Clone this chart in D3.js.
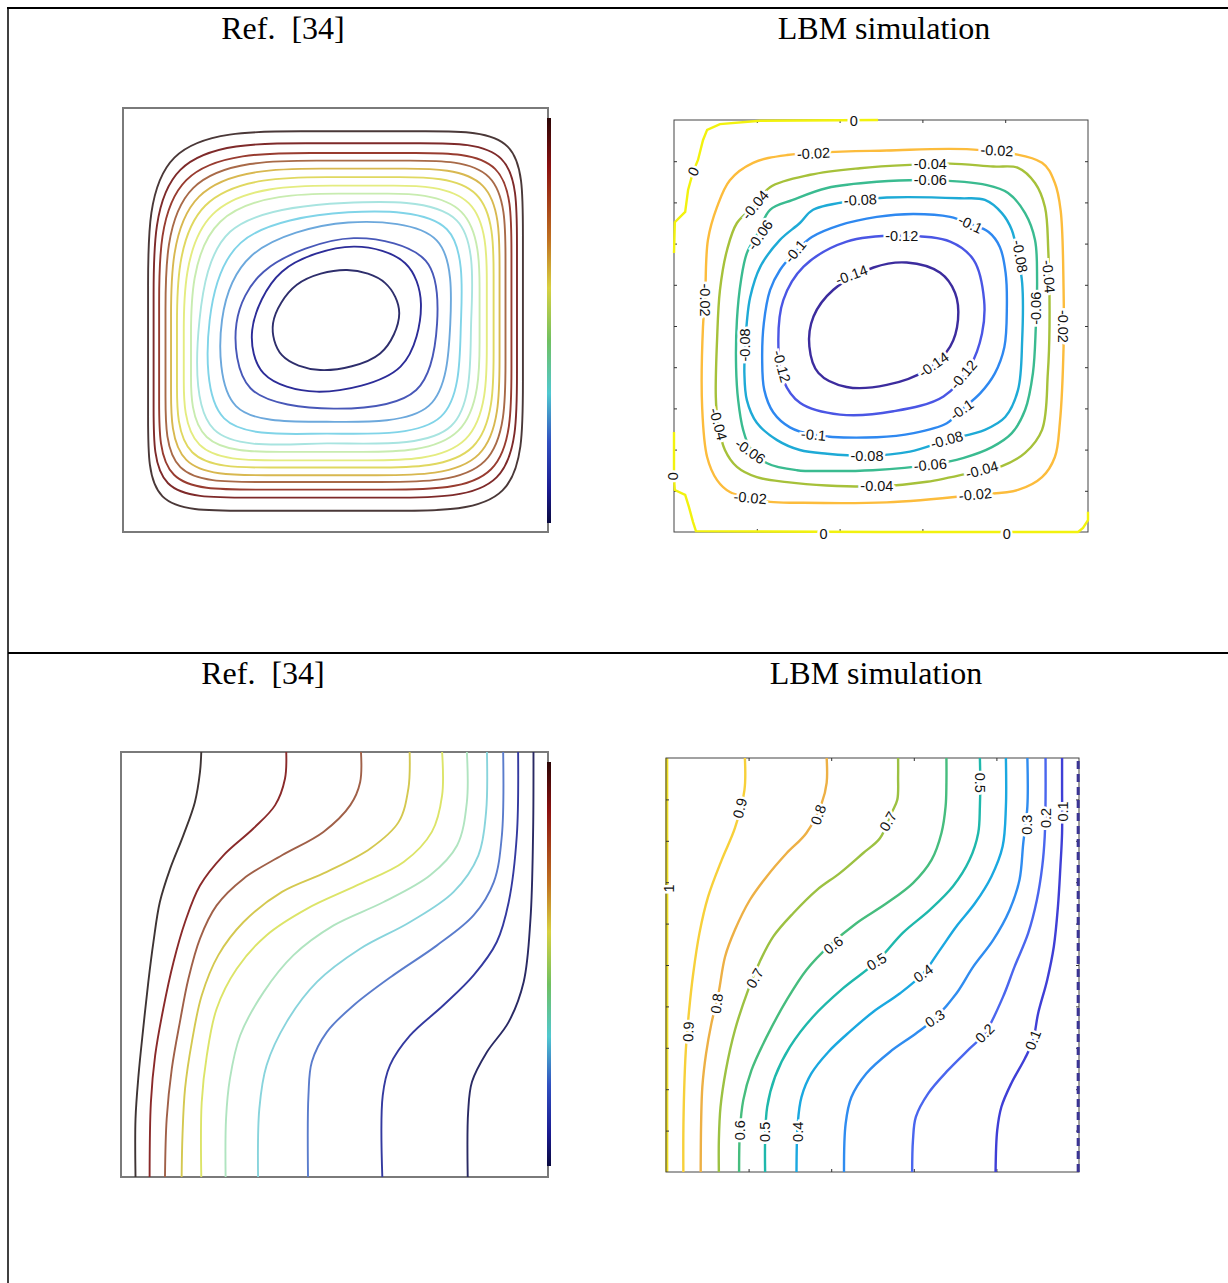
<!DOCTYPE html>
<html>
<head>
<meta charset="utf-8">
<script src="https://cdn.jsdelivr.net/npm/d3@7"></script>
<style>
  body { margin: 0; background: #fff; }
  .title { font-family: "Liberation Serif", "Times New Roman", serif; font-size: 32px; fill: #000; white-space: pre; }
  .clab { font-family: "Liberation Sans", Arial, sans-serif; font-size: 14.5px; fill: #111; }
</style>
</head>
<body>
<svg id="fig" width="1228" height="1283"></svg>
<script>
// ---------------- data (cavity coordinates, 0..1, y up) ----------------
const titleRef = "Ref.  [34]";
const titleLbm = "LBM simulation";

// Ref. [34] stream-function loops.
// outer eight: spline control polygons (corner, side, side, corner ...), outer -> inner
const refPsiOuter = [
  [[0.059,0.945],[0.431,0.945],[0.725,0.945],[0.941,0.945],[0.941,0.729],[0.941,0.338],[0.941,0.050],[0.653,0.050],[0.263,0.050],[0.059,0.050],[0.059,0.254],[0.059,0.573]],
  [[0.072,0.917],[0.450,0.917],[0.705,0.917],[0.927,0.917],[0.927,0.695],[0.927,0.369],[0.927,0.081],[0.639,0.081],[0.276,0.081],[0.072,0.081],[0.072,0.285],[0.072,0.539]],
  [[0.085,0.894],[0.469,0.894],[0.686,0.894],[0.914,0.894],[0.914,0.666],[0.914,0.388],[0.914,0.100],[0.626,0.100],[0.295,0.100],[0.085,0.100],[0.085,0.310],[0.085,0.510]],
  [[0.100,0.876],[0.490,0.876],[0.666,0.876],[0.900,0.876],[0.900,0.642],[0.900,0.412],[0.900,0.118],[0.606,0.118],[0.310,0.118],[0.100,0.118],[0.100,0.328],[0.100,0.486]],
  [[0.113,0.857],[0.509,0.857],[0.646,0.857],[0.886,0.857],[0.886,0.617],[0.886,0.428],[0.886,0.134],[0.592,0.134],[0.329,0.134],[0.113,0.134],[0.113,0.350],[0.113,0.461]],
  [[0.127,0.837],[0.529,0.837],[0.626,0.837],[0.872,0.837],[0.872,0.591],[0.872,0.446],[0.872,0.152],[0.578,0.152],[0.343,0.152],[0.127,0.152],[0.127,0.368],[0.127,0.435]],
  [[0.143,0.817],[0.551,0.817],[0.604,0.817],[0.856,0.817],[0.856,0.565],[0.856,0.469],[0.856,0.169],[0.556,0.169],[0.365,0.169],[0.143,0.169],[0.143,0.391],[0.143,0.409]],
  [[0.160,0.798],[0.574,0.798],[0.581,0.798],[0.839,0.798],[0.839,0.540],[0.839,0.489],[0.839,0.189],[0.539,0.189],[0.382,0.189],[0.160,0.189],[0.160,0.400],[0.160,0.400]]
];
// inner six: points on the loop (top, NE, right, SE, bottom, SW, left, NW)
const refPsiInner = [
  [[0.520,0.776],[0.785,0.735],[0.819,0.490],[0.772,0.250],[0.480,0.209],[0.214,0.242],[0.180,0.500],[0.252,0.708]],
  [[0.530,0.754],[0.762,0.714],[0.795,0.490],[0.748,0.272],[0.480,0.232],[0.238,0.268],[0.204,0.500],[0.277,0.682]],
  [[0.530,0.730],[0.738,0.688],[0.770,0.490],[0.720,0.298],[0.480,0.260],[0.266,0.297],[0.233,0.500],[0.303,0.652]],
  [[0.543,0.693],[0.712,0.640],[0.739,0.492],[0.690,0.335],[0.496,0.291],[0.300,0.339],[0.267,0.492],[0.331,0.614]],
  [[0.543,0.673],[0.664,0.634],[0.701,0.539],[0.653,0.390],[0.456,0.331],[0.331,0.374],[0.304,0.476],[0.374,0.614]],
  [[0.527,0.618],[0.617,0.587],[0.650,0.516],[0.605,0.421],[0.464,0.382],[0.374,0.417],[0.353,0.492],[0.409,0.583]]
];

// Ref. [34] isotherms, hot wall side -> cold wall side (top to bottom points)
const refTempCurves = [
  [[0.188,1.0],[0.185,0.953],[0.173,0.882],[0.146,0.804],[0.115,0.725],[0.091,0.647],[0.076,0.553],[0.064,0.459],[0.052,0.349],[0.041,0.239],[0.034,0.137],[0.034,0.0]],
  [[0.387,1.0],[0.384,0.937],[0.361,0.875],[0.310,0.820],[0.240,0.757],[0.185,0.686],[0.150,0.600],[0.123,0.506],[0.099,0.396],[0.080,0.286],[0.070,0.176],[0.067,0.0]],
  [[0.562,1.0],[0.560,0.929],[0.537,0.875],[0.474,0.812],[0.377,0.757],[0.287,0.702],[0.224,0.639],[0.185,0.561],[0.158,0.467],[0.138,0.365],[0.119,0.255],[0.107,0.137],[0.103,0.0]],
  [[0.676,1.0],[0.673,0.914],[0.650,0.835],[0.584,0.773],[0.482,0.718],[0.377,0.671],[0.287,0.600],[0.228,0.522],[0.189,0.427],[0.166,0.318],[0.150,0.208],[0.144,0.098],[0.142,0.0]],
  [[0.752,1.0],[0.752,0.898],[0.728,0.812],[0.662,0.741],[0.552,0.686],[0.435,0.631],[0.341,0.569],[0.271,0.490],[0.224,0.396],[0.201,0.286],[0.189,0.176],[0.188,0.0]],
  [[0.810,1.0],[0.810,0.882],[0.787,0.780],[0.724,0.710],[0.615,0.647],[0.498,0.592],[0.404,0.522],[0.334,0.435],[0.279,0.333],[0.255,0.231],[0.246,0.137],[0.245,0.0]],
  [[0.857,1.0],[0.855,0.859],[0.837,0.757],[0.779,0.671],[0.677,0.600],[0.560,0.537],[0.459,0.459],[0.388,0.365],[0.341,0.263],[0.324,0.161],[0.321,0.0]],
  [[0.895,1.0],[0.892,0.804],[0.873,0.694],[0.826,0.616],[0.740,0.545],[0.638,0.475],[0.545,0.404],[0.482,0.341],[0.447,0.271],[0.439,0.192],[0.438,0.0]],
  [[0.930,1.0],[0.927,0.804],[0.908,0.647],[0.880,0.553],[0.826,0.475],[0.755,0.404],[0.677,0.333],[0.630,0.263],[0.613,0.192],[0.612,0.0]],
  [[0.966,1.0],[0.965,0.804],[0.959,0.608],[0.943,0.459],[0.908,0.365],[0.857,0.294],[0.822,0.224],[0.813,0.153],[0.812,0.0]]
];

// LBM stream function
const lbmPsiLevels = [-0.02, -0.04, -0.06, -0.08, -0.1, -0.12, -0.14];
const lbmPsiLoops = [
  [[0.273,0.915],[0.514,0.926],[0.740,0.927],[0.889,0.896],[0.920,0.847],[0.934,0.780],[0.941,0.590],[0.941,0.450],[0.932,0.265],[0.920,0.182],[0.889,0.133],[0.831,0.102],[0.728,0.090],[0.514,0.072],[0.300,0.071],[0.232,0.073],[0.184,0.083],[0.135,0.097],[0.104,0.126],[0.080,0.182],[0.068,0.303],[0.070,0.498],[0.075,0.563],[0.082,0.709],[0.104,0.789],[0.135,0.854],[0.191,0.896]],
  [[0.329,0.867],[0.449,0.883],[0.570,0.891],[0.667,0.894],[0.771,0.887],[0.831,0.884],[0.872,0.847],[0.896,0.789],[0.904,0.684],[0.907,0.499],[0.903,0.386],[0.889,0.248],[0.848,0.192],[0.792,0.160],[0.744,0.150],[0.611,0.122],[0.490,0.111],[0.369,0.113],[0.273,0.121],[0.200,0.133],[0.152,0.158],[0.123,0.199],[0.106,0.267],[0.101,0.328],[0.104,0.466],[0.111,0.587],[0.128,0.684],[0.152,0.750],[0.196,0.794],[0.232,0.837]],
  [[0.287,0.806],[0.370,0.835],[0.490,0.850],[0.619,0.854],[0.756,0.842],[0.807,0.823],[0.848,0.774],[0.872,0.709],[0.877,0.612],[0.874,0.499],[0.867,0.386],[0.848,0.296],[0.816,0.240],[0.768,0.206],[0.700,0.180],[0.619,0.163],[0.480,0.150],[0.370,0.148],[0.297,0.150],[0.225,0.167],[0.184,0.204],[0.167,0.248],[0.155,0.320],[0.150,0.400],[0.152,0.515],[0.162,0.612],[0.176,0.677],[0.203,0.726],[0.232,0.782]],
  [[0.336,0.782],[0.449,0.806],[0.514,0.812],[0.691,0.810],[0.751,0.806],[0.792,0.774],[0.816,0.733],[0.831,0.667],[0.841,0.604],[0.841,0.466],[0.831,0.345],[0.800,0.279],[0.751,0.248],[0.659,0.223],[0.570,0.195],[0.466,0.185],[0.370,0.190],[0.304,0.199],[0.249,0.223],[0.200,0.265],[0.176,0.320],[0.170,0.386],[0.172,0.449],[0.176,0.510],[0.184,0.570],[0.208,0.643],[0.256,0.709],[0.304,0.750]],
  [[0.333,0.716],[0.401,0.745],[0.490,0.765],[0.578,0.772],[0.667,0.765],[0.715,0.748],[0.760,0.728],[0.787,0.692],[0.801,0.629],[0.804,0.546],[0.798,0.449],[0.775,0.385],[0.740,0.337],[0.695,0.297],[0.659,0.264],[0.579,0.240],[0.490,0.230],[0.337,0.236],[0.280,0.254],[0.240,0.290],[0.218,0.345],[0.213,0.420],[0.217,0.507],[0.232,0.587],[0.256,0.636],[0.293,0.680]],
  [[0.417,0.705],[0.550,0.719],[0.667,0.705],[0.724,0.660],[0.749,0.563],[0.744,0.482],[0.715,0.402],[0.651,0.329],[0.530,0.293],[0.401,0.285],[0.305,0.313],[0.264,0.369],[0.252,0.466],[0.264,0.563],[0.313,0.644]],
  [[0.482,0.642],[0.562,0.654],[0.643,0.629],[0.679,0.580],[0.686,0.515],[0.667,0.450],[0.611,0.394],[0.514,0.357],[0.417,0.352],[0.349,0.386],[0.327,0.450],[0.337,0.523],[0.385,0.588]]
];
// the psi = 0 contour hugs the walls
const lbmPsiZero = [
  [[0.493,1.0],[0.208,0.998],[0.111,0.990],[0.080,0.976],[0.070,0.951],[0.058,0.903],[0.046,0.874],[0.034,0.830],[0.027,0.777],[0.002,0.752],[0.0,0.677]],
  [[0.0,0.243],[0.0,0.131],[0.002,0.102],[0.027,0.090],[0.036,0.061],[0.046,0.024],[0.053,0.002],[0.500,0.0],[0.976,0.0],[0.988,0.010],[1.0,0.029],[1.0,0.049]]
];
// [text, x, y, angle]
const lbmPsiLabels = [
  ["0",0.434,0.998,0],["0",0.047,0.875,-65],["-0.02",0.337,0.919,-3],["-0.02",0.780,0.926,3],
  ["-0.04",0.619,0.893,0],["-0.06",0.619,0.854,0],["-0.04",0.196,0.794,-50],["-0.06",0.208,0.721,-55],
  ["-0.08",0.450,0.806,-3],["-0.1",0.716,0.747,25],["-0.12",0.550,0.719,0],["-0.1",0.293,0.681,-50],
  ["-0.08",0.836,0.669,80],["-0.14",0.429,0.624,-20],["-0.04",0.905,0.620,85],["-0.02",0.075,0.563,90],
  ["-0.06",0.873,0.543,-90],["-0.02",0.941,0.499,90],["-0.08",0.172,0.454,-90],["-0.12",0.260,0.402,75],
  ["-0.14",0.627,0.406,-35],["-0.12",0.699,0.382,-50],["-0.1",0.695,0.297,-35],["-0.04",0.107,0.262,75],
  ["-0.06",0.184,0.196,35],["-0.1",0.337,0.236,5],["-0.08",0.659,0.224,-15],["-0.08",0.466,0.185,0],
  ["-0.06",0.619,0.163,-5],["-0.04",0.744,0.151,-15],["-0.04",0.490,0.111,0],["-0.02",0.184,0.083,5],
  ["-0.02",0.728,0.091,-5],["0",-0.002,0.135,90],["0",0.361,-0.004,0],["0",0.804,-0.004,0]
];

// LBM temperature
const lbmTempLevels = [0.9, 0.8, 0.7, 0.6, 0.5, 0.4, 0.3, 0.2, 0.1];
const lbmTempCurves = [
  [[0.191,1.0],[0.190,0.923],[0.167,0.831],[0.135,0.754],[0.102,0.665],[0.081,0.577],[0.066,0.480],[0.056,0.391],[0.048,0.294],[0.044,0.198],[0.042,0.093],[0.042,0.0]],
  [[0.389,1.0],[0.389,0.940],[0.377,0.891],[0.340,0.819],[0.292,0.770],[0.244,0.714],[0.203,0.657],[0.167,0.585],[0.143,0.520],[0.127,0.431],[0.110,0.359],[0.097,0.286],[0.088,0.206],[0.085,0.117],[0.084,0.0]],
  [[0.562,1.0],[0.562,0.956],[0.560,0.899],[0.546,0.867],[0.518,0.806],[0.477,0.770],[0.421,0.722],[0.365,0.681],[0.308,0.625],[0.260,0.569],[0.227,0.508],[0.199,0.440],[0.167,0.343],[0.145,0.246],[0.132,0.157],[0.128,0.077],[0.128,0.0]],
  [[0.679,1.0],[0.679,0.940],[0.677,0.883],[0.667,0.819],[0.643,0.754],[0.598,0.698],[0.534,0.649],[0.461,0.601],[0.397,0.548],[0.340,0.488],[0.292,0.415],[0.244,0.327],[0.207,0.246],[0.187,0.173],[0.179,0.101],[0.177,0.0]],
  [[0.760,1.0],[0.761,0.940],[0.760,0.883],[0.756,0.819],[0.735,0.754],[0.695,0.690],[0.639,0.633],[0.574,0.578],[0.510,0.508],[0.429,0.444],[0.356,0.375],[0.300,0.302],[0.264,0.230],[0.245,0.157],[0.240,0.077],[0.240,0.0]],
  [[0.823,1.0],[0.823,0.883],[0.815,0.786],[0.788,0.714],[0.748,0.649],[0.703,0.593],[0.663,0.536],[0.623,0.480],[0.566,0.431],[0.502,0.387],[0.445,0.339],[0.393,0.290],[0.352,0.238],[0.328,0.181],[0.319,0.117],[0.316,0.0]],
  [[0.875,1.0],[0.875,0.883],[0.865,0.794],[0.856,0.706],[0.832,0.633],[0.792,0.560],[0.744,0.496],[0.703,0.431],[0.651,0.371],[0.606,0.335],[0.542,0.290],[0.485,0.238],[0.449,0.181],[0.435,0.117],[0.431,0.0]],
  [[0.919,1.0],[0.919,0.899],[0.917,0.810],[0.911,0.738],[0.898,0.657],[0.877,0.577],[0.844,0.496],[0.816,0.423],[0.772,0.335],[0.735,0.298],[0.683,0.246],[0.635,0.190],[0.605,0.133],[0.598,0.077],[0.596,0.0]],
  [[0.959,1.0],[0.959,0.923],[0.959,0.819],[0.955,0.738],[0.949,0.641],[0.939,0.544],[0.923,0.464],[0.901,0.383],[0.889,0.319],[0.869,0.274],[0.836,0.214],[0.812,0.157],[0.802,0.101],[0.798,0.0]]
];
const lbmTempLabels = [
  ["0.9",0.179,0.879,-75],["0.8",0.369,0.863,-70],["0.7",0.538,0.847,-60],["0.5",0.760,0.940,90],
  ["0.3",0.873,0.839,-90],["0.2",0.921,0.855,-90],["0.1",0.961,0.871,-90],["1",0.006,0.685,-90],
  ["0.6",0.405,0.548,-38],["0.5",0.510,0.508,-32],["0.4",0.623,0.480,-35],["0.7",0.215,0.468,-60],
  ["0.8",0.123,0.407,-82],["0.3",0.651,0.371,-35],["0.2",0.772,0.335,-45],["0.1",0.889,0.319,-68],
  ["0.9",0.054,0.339,-88],["0.6",0.179,0.101,-90],["0.5",0.240,0.097,-90],["0.4",0.320,0.097,-90]
];

const tickFracY = [0.1,0.2,0.3,0.4,0.5,0.6,0.7,0.8,0.9];
const tickFracX = [0.2,0.4,0.6,0.8];

// ---------------- styles ----------------
const refPsiColors = ["#4a3838","#7e2a2a","#983c30","#a86a48","#d8b850","#e0d860","#e4ec80","#c8ecb0","#a8e4e0","#80d4e8","#6ca8dc","#4858b8","#2c2c98","#2e2e6c"];
const refTempColors = ["#3e3434","#8a2a2a","#a06048","#d4c850","#dce468","#b0e4c0","#88d4dc","#5a7ccc","#343aa0","#2a2a64"];
const lbmPsiColor = d3.scaleOrdinal().domain(lbmPsiLevels)
  .range(["#fcbc3c","#a6c13a","#3abb90","#1eaad6","#2e88f0","#4a56e4","#3c2c9e"]);
const lbmTempColor = d3.scaleOrdinal().domain(lbmTempLevels)
  .range(["#f7d03a","#edb045","#9cc142","#46bd7e","#1fb8ac","#1aa8e0","#2f8cf0","#4a66ee","#3f3fd6"]);
const jetStops = [[0,"#2a0505"],[0.12,"#8a1010"],[0.3,"#c07020"],[0.42,"#d8d040"],[0.55,"#70c060"],[0.68,"#50c8d0"],[0.8,"#3050c0"],[0.92,"#1a1a90"],[1,"#0a0a40"]];

const boxTL = {x0:123, x1:548, y0:108, y1:532};
const boxTR = {x0:674, x1:1088, y0:120, y1:532};
const boxBL = {x0:121, x1:548, y0:752, y1:1177};
const boxBR = {x0:666, x1:1079, y0:758, y1:1172};

const svg = d3.select("#fig");

function scalesFor(b) {
  return {
    x: d3.scaleLinear().domain([0,1]).range([b.x0, b.x1]),
    y: d3.scaleLinear().domain([0,1]).range([b.y1, b.y0])
  };
}

// table rules
svg.append("line").attr("x1",7).attr("y1",8).attr("x2",1228).attr("y2",8).attr("stroke","#000").attr("stroke-width",2);
svg.append("line").attr("x1",8).attr("y1",7).attr("x2",8).attr("y2",1283).attr("stroke","#000").attr("stroke-width",1.5);
svg.append("line").attr("x1",8).attr("y1",653).attr("x2",1228).attr("y2",653).attr("stroke","#000").attr("stroke-width",2);

// titles
[[titleRef,283,39],[titleLbm,884,39],[titleRef,263,684],[titleLbm,876,684]].forEach(t => {
  svg.append("text").attr("class","title").attr("x",t[1]).attr("y",t[2])
    .attr("text-anchor","middle").text(t[0]);
});

// jet gradient for the reference colour bars
const grad = svg.append("defs").append("linearGradient").attr("id","jet")
  .attr("x1",0).attr("y1",0).attr("x2",0).attr("y2",1);
jetStops.forEach(s => grad.append("stop").attr("offset",s[0]).attr("stop-color",s[1]));

function refFrame(b, barY0, barY1) {
  const g = svg.append("g");
  g.append("rect").attr("x",b.x0).attr("y",b.y0).attr("width",b.x1-b.x0).attr("height",b.y1-b.y0)
    .attr("fill","#fff").attr("stroke","#7a7a7a").attr("stroke-width",2);
  g.append("rect").attr("x",b.x1-1).attr("y",barY0).attr("width",4).attr("height",barY1-barY0)
    .attr("fill","url(#jet)");
  return g;
}
function drawCurves(g, s, curves, colorOf, curve, width) {
  const line = d3.line().x(d => s.x(d[0])).y(d => s.y(d[1])).curve(curve);
  g.append("g").selectAll("path").data(curves).join("path")
    .attr("d", line).attr("fill","none")
    .attr("stroke", colorOf).attr("stroke-width",width);
}

// Ref. [34] stream function
(function () {
  const s = scalesFor(boxTL);
  const g = refFrame(boxTL, 118, 523);
  drawCurves(g, s, refPsiOuter, (d,i) => refPsiColors[i], d3.curveBasisClosed, 1.9);
  drawCurves(g, s, refPsiInner, (d,i) => refPsiColors[i + refPsiOuter.length], d3.curveCatmullRomClosed.alpha(0.5), 1.9);
})();

// Ref. [34] temperature
(function () {
  const s = scalesFor(boxBL);
  const g = refFrame(boxBL, 762, 1166);
  drawCurves(g, s, refTempCurves, (d,i) => refTempColors[i], d3.curveCatmullRom.alpha(0.5), 1.9);
})();

function ticks(g, s, b) {
  const style = a => a.call(x => x.select(".domain").remove())
    .call(x => x.selectAll("line").attr("stroke","#333"));
  g.append("g").attr("transform",`translate(${b.x0},0)`).call(d3.axisRight(s.y).tickValues(tickFracY).tickSize(3).tickFormat("")).call(style);
  g.append("g").attr("transform",`translate(${b.x1},0)`).call(d3.axisLeft(s.y).tickValues(tickFracY).tickSize(3).tickFormat("")).call(style);
  g.append("g").attr("transform",`translate(0,${b.y1})`).call(d3.axisTop(s.x).tickValues(tickFracX).tickSize(3).tickFormat("")).call(style);
  g.append("g").attr("transform",`translate(0,${b.y0})`).call(d3.axisBottom(s.x).tickValues(tickFracX).tickSize(3).tickFormat("")).call(style);
}

function drawLabels(g, s, labels) {
  g.selectAll("text.clab").data(labels).join("text").attr("class","clab")
    .attr("transform", d => `translate(${s.x(d[1])},${s.y(d[2])}) rotate(${d[3]})`)
    .attr("text-anchor","middle").attr("dy","0.35em")
    .attr("stroke","#fff").attr("stroke-width",5).attr("paint-order","stroke")
    .text(d => d[0]);
}

// LBM stream function panel
(function () {
  const b = boxTR, s = scalesFor(b);
  const g = svg.append("g");
  g.append("rect").attr("x",b.x0).attr("y",b.y0).attr("width",b.x1-b.x0).attr("height",b.y1-b.y0)
    .attr("fill","#fff").attr("stroke","#444").attr("stroke-width",1);
  ticks(g, s, b);
  drawCurves(g, s, lbmPsiZero, () => "#f2f20e", d3.curveLinear, 2.4);
  drawCurves(g, s, lbmPsiLoops, (d,i) => lbmPsiColor(lbmPsiLevels[i]), d3.curveCatmullRomClosed.alpha(0.5), 2.4);
  drawLabels(g, s, lbmPsiLabels);
})();

// LBM temperature panel
(function () {
  const b = boxBR, s = scalesFor(b);
  const g = svg.append("g");
  const open = d3.line().x(d => s.x(d[0])).y(d => s.y(d[1]));
  g.append("rect").attr("x",b.x0).attr("y",b.y0).attr("width",b.x1-b.x0).attr("height",b.y1-b.y0)
    .attr("fill","#fff");
  g.append("path").attr("d", open([[0.002,0],[0.002,1]])).attr("stroke","#f0e020").attr("stroke-width",3);
  g.append("rect").attr("x",b.x0).attr("y",b.y0).attr("width",b.x1-b.x0).attr("height",b.y1-b.y0)
    .attr("fill","none").attr("stroke","#444").attr("stroke-width",1);
  ticks(g, s, b);
  drawCurves(g, s, lbmTempCurves, (d,i) => lbmTempColor(lbmTempLevels[i]), d3.curveCatmullRom.alpha(0.5), 2.4);
  g.append("path").attr("d", open([[0.998,0],[0.998,1]])).attr("stroke","#3b3493")
    .attr("stroke-width",3).attr("stroke-dasharray","8,5");
  drawLabels(g, s, lbmTempLabels);
})();
</script>
</body>
</html>
